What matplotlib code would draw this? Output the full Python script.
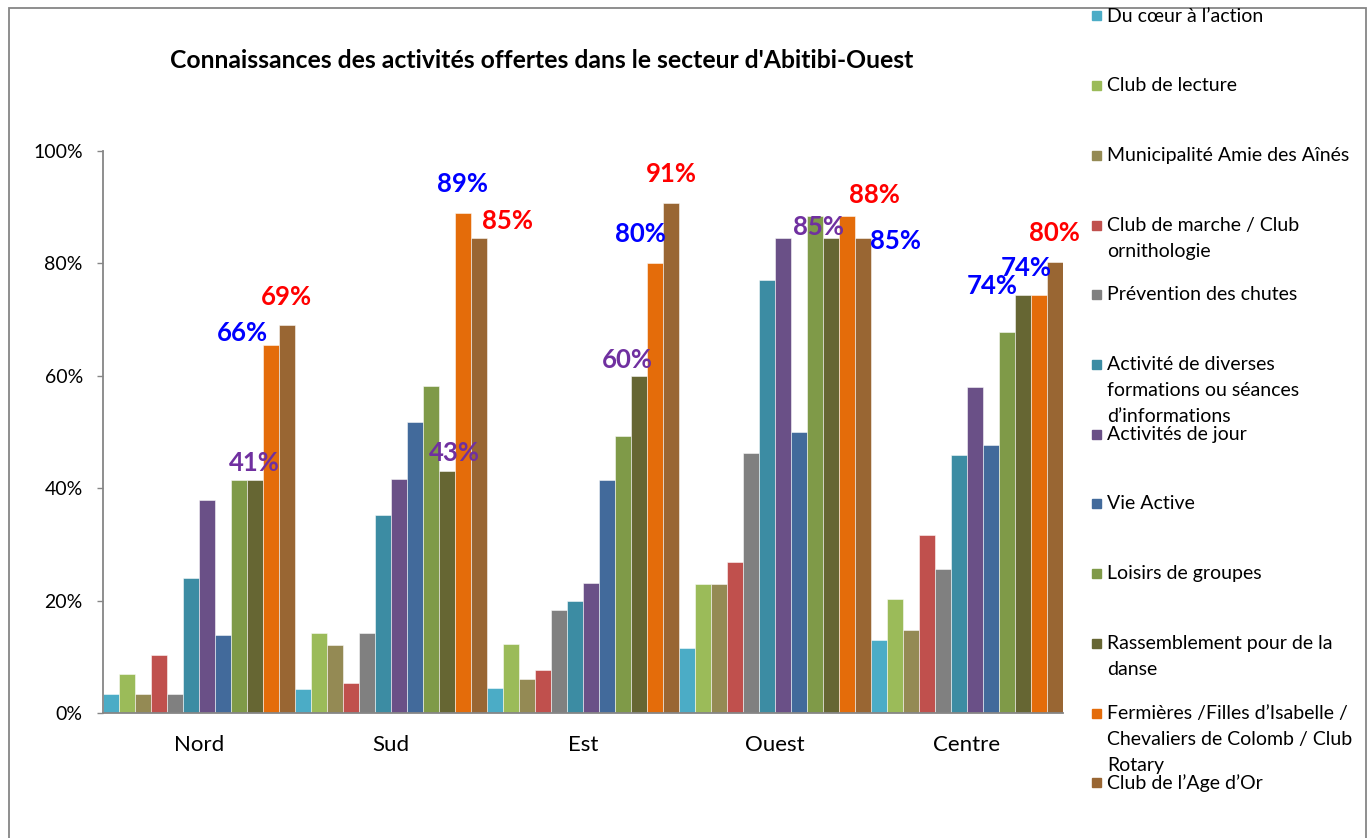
import matplotlib.pyplot as plt
import numpy as np
from matplotlib.patches import Rectangle

plt.rcParams['font.family'] = ['Lato', 'DejaVu Sans']

# --- data -------------------------------------------------------------
regions = ["Nord", "Sud", "Est", "Ouest", "Centre"]

activities = [
    "Du cœur à l’action",
    "Club de lecture",
    "Municipalité Amie des Aînés",
    "Club de marche / Club\nornithologie",
    "Prévention des chutes",
    "Activité de diverses\nformations ou séances\nd’informations",
    "Activités de jour",
    "Vie Active",
    "Loisirs de groupes",
    "Rassemblement pour de la\ndanse",
    "Fermières /Filles d’Isabelle /\nChevaliers de Colomb / Club\nRotary",
    "Club de l’Age d’Or",
]

colors = ["#4BACC6", "#9BBB59", "#948A54", "#C0504D", "#808080", "#3C8CA3",
          "#6A5087", "#426A9B", "#7F9A48", "#666633", "#E46C0A", "#996633"]

# percent per activity, order: Nord, Sud, Est, Ouest, Centre
du_coeur      = [3.4, 4.3, 4.5, 11.5, 13.0]
lecture       = [6.9, 14.2, 12.3, 23.0, 20.2]
municipalite  = [3.4, 12.1, 6.1, 23.0, 14.7]
marche        = [10.3, 5.4, 7.6, 26.9, 31.7]
prevention    = [3.4, 14.2, 18.4, 46.2, 25.6]
formations    = [24.1, 35.2, 20.0, 77.0, 45.9]
act_jour      = [37.9, 41.7, 23.1, 84.6, 58.0]
vie_active    = [13.8, 51.7, 41.5, 50.0, 47.6]
loisirs       = [41.4, 58.2, 49.3, 88.5, 67.8]
rassemblement = [41.4, 43.0, 60.0, 84.6, 74.4]
fermieres     = [65.5, 89.0, 80.0, 88.5, 74.4]
age_dor       = [69.0, 84.6, 90.8, 84.6, 80.3]

values = [du_coeur, lecture, municipalite, marche, prevention, formations,
          act_jour, vie_active, loisirs, rassemblement, fermieres, age_dor]

# hand-placed call-outs from the original chart: (x, y, text, colour)
callouts = [
    (0.224, 67.6, "66%", "#0000FF"),
    (0.458, 74.0, "69%", "#FF0000"),
    (0.286, 44.5, "41%", "#7030A0"),
    (1.370, 94.1, "89%", "#0000FF"),
    (1.609, 87.5, "85%", "#FF0000"),
    (1.333, 46.3, "43%", "#7030A0"),
    (2.297, 85.2, "80%", "#0000FF"),
    (2.458, 95.9, "91%", "#FF0000"),
    (2.229, 62.8, "60%", "#7030A0"),
    (3.229, 86.5, "85%", "#7030A0"),
    (3.516, 92.2, "88%", "#FF0000"),
    (3.630, 84.0, "85%", "#0000FF"),
    (4.130, 76.0, "74%", "#0000FF"),
    (4.307, 79.2, "74%", "#0000FF"),
    (4.458, 85.4, "80%", "#FF0000"),
]

# --- figure -----------------------------------------------------------
W, H = 1371, 838
fig = plt.figure(figsize=(W / 100, H / 100), dpi=100)
ax = fig.add_axes([103 / W, 1 - 713 / H, 960 / W, (713 - 151) / H])

n = len(activities)
w = 1.0 / n
x = np.arange(len(regions))
for j, (vals, col) in enumerate(zip(values, colors)):
    ax.bar(x - 0.5 + w * (j + 0.5), vals, width=w, color=col,
           edgecolor=(1, 1, 1, 0.6), linewidth=0.6)

for cx, cy, txt, col in callouts:
    ax.text(cx, cy, txt, color=col, fontsize=18.5, fontweight="bold",
            ha="center", va="center")

ax.set_xlim(-0.5, len(regions) - 0.5)
ax.set_ylim(0, 100)
ax.set_yticks(np.arange(0, 101, 20))
ax.set_yticklabels([f"{v}%" for v in range(0, 101, 20)])
ax.set_xticks(x)
ax.set_xticklabels(regions)
ax.tick_params(axis="y", length=4.5, width=1, color="#868686",
               labelsize=14, pad=10)
ax.tick_params(axis="x", length=0, labelsize=16, pad=16)
for s in ["top", "right"]:
    ax.spines[s].set_visible(False)
for s in ["left", "bottom"]:
    ax.spines[s].set_color("#868686")
    ax.spines[s].set_linewidth(1.3)

fig.text(542 / W, 1 - 60 / H,
         "Connaissances des activités offertes dans le secteur d'Abitibi-Ouest",
         ha="center", va="center", fontsize=17.8, fontweight="bold")

# outer chart border
fig.patches.append(Rectangle((9 / W, -0.01), (1366 - 9) / W, 1.01 - 8 / H,
                             transform=fig.transFigure, fill=False,
                             edgecolor="#868686", linewidth=1.3))

# legend, drawn by hand to keep the original spacing
y0, step, line = 16, 69.7, 26
for j, (lab, col) in enumerate(zip(activities, colors)):
    yc = y0 + j * step
    fig.patches.append(Rectangle((1092 / W, 1 - (yc + 4.5) / H), 9 / W, 9 / H,
                                 transform=fig.transFigure, color=col))
    for k, part in enumerate(lab.split("\n")):
        fig.text(1107 / W, 1 - (yc + k * line) / H, part,
                 ha="left", va="center", fontsize=14)

fig.savefig("out.png", dpi=100)
